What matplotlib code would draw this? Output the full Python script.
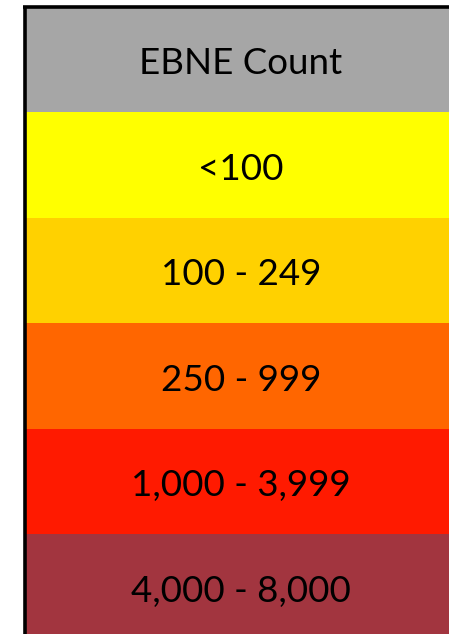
import matplotlib
matplotlib.use("Agg")
import matplotlib.pyplot as plt

labels = ["EBNE Count", "<100", "100 - 249", "250 - 999", "1,000 - 3,999", "4,000 - 8,000"]
colors = ["#A6A6A6", "#FFFF00", "#FFD100", "#FF6600", "#FF1A00", "#A2353F"]

W, H = 449, 634
fig = plt.figure(figsize=(W / 100, H / 100), dpi=100)
ax = fig.add_axes([0, 0, 1, 1])
ax.set_xlim(0, W)
ax.set_ylim(H, 0)
ax.axis("off")

left, top, row_h = 24.5, 6.5, 105.5
for i, (lab, col) in enumerate(zip(labels, colors)):
    y0 = top + i * row_h
    ax.barh(y0 + row_h / 2, W - left, left=left, height=row_h, color=col, edgecolor="none")
    ax.text((left + W) / 2 + 4, y0 + row_h / 2 + 15, lab, ha="center", va="baseline",
            fontsize=26.5, family=["Lato", "DejaVu Sans"], color="black")

ax.plot([left, left], [top, H], color="black", lw=2.6, solid_capstyle="butt")
ax.plot([left - 1.3, W], [top, top], color="black", lw=2.6, solid_capstyle="butt")

fig.savefig("out.png", dpi=100)
